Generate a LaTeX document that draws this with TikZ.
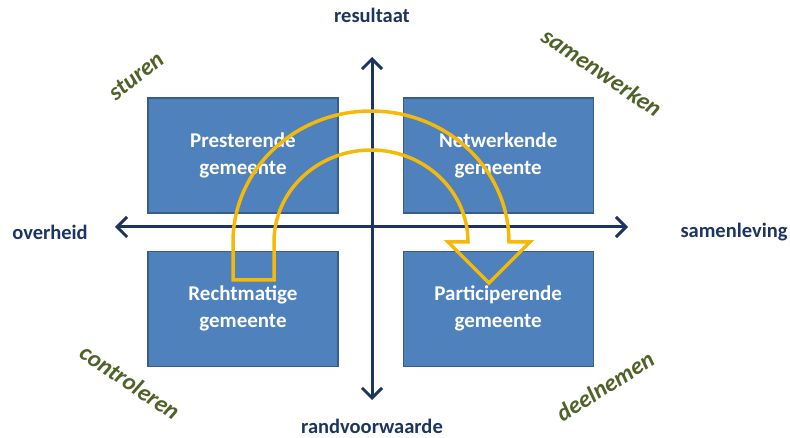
\documentclass[tikz,border=0pt]{standalone}
\usepackage{fontspec}
\setmainfont{Carlito}
\usetikzlibrary{positioning}
\usetikzlibrary{arrows.meta}
\definecolor{navy}{RGB}{27,53,96}
\definecolor{boxblue}{RGB}{79,129,189}
\definecolor{boxline}{RGB}{56,93,138}
\definecolor{leafgreen}{RGB}{79,98,40}
\definecolor{goldline}{RGB}{245,185,10}

\begin{document}
\begin{tikzpicture}[x=1pt,y=-1pt,
	quad/.style={rectangle,draw=boxline,line width=1.2pt,fill=boxblue,minimum width=190pt,minimum height=115pt,text=white,align=center,font=\fontsize{21}{27}\selectfont\bfseries},
	axislabel/.style={text=navy,font=\fontsize{20.5}{24}\selectfont\bfseries,inner sep=1pt},
	mood/.style={text=leafgreen,font=\fontsize{24}{28}\selectfont\bfseries\itshape,inner sep=1pt},
	axis/.style={draw=navy,line width=3pt,{Straight Barb[length=10pt,width=20pt]}-{Straight Barb[length=10pt,width=20pt]}},
	turn/.style={draw=goldline,line width=3.5pt,line join=miter}]
				\useasboundingbox (0,0) rectangle (790,438);

				\node[quad]	(pres)	at (243,155.5) {Presterende\\gemeente};
				\node[quad, right=64pt of pres]	(netw) {Netwerkende\\gemeente};
				\node[quad, below=37pt of pres]	(recht) {Rechtmatige\\gemeente};
				\node[quad, below=37pt of netw]	(part) {Participerende\\gemeente};

				\coordinate (axN) at (372,57);
				\coordinate (axS) at (372,400);
				\coordinate (axW) at (115,227);
				\coordinate (axE) at (628,227);
				\draw[axis] (axS) -- (axN);
				\draw[axis] (axW) -- (axE);

				\node[axislabel]	(res)	at (372,15) {resultaat};
				\node[axislabel]	(rand)	at (372,426) {randvoorwaarde};
				\node[axislabel]	(over)	at (50,232) {overheid};
				\node[axislabel]	(saml)	at (734,232) {samenleving};

				\node[mood, rotate=38]	(stur)	at (136,76) {sturen};
				\node[mood, rotate=-34]	(samw)	at (602,72) {samenwerken};
				\node[mood, rotate=-34]	(contr)	at (130,382) {controleren};
				\node[mood, rotate=32]	(deel)	at (605,386) {deelnemen};

				\draw[turn] (233,280) -- (233,242) arc[start angle=180,end angle=360,x radius=138,y radius=131]
					-- (530,242) -- (489,283) -- (448,242) -- (468,242)
					arc[start angle=0,end angle=-180,x radius=97,y radius=92] -- (274,280) -- cycle;
\end{tikzpicture}
\end{document}
